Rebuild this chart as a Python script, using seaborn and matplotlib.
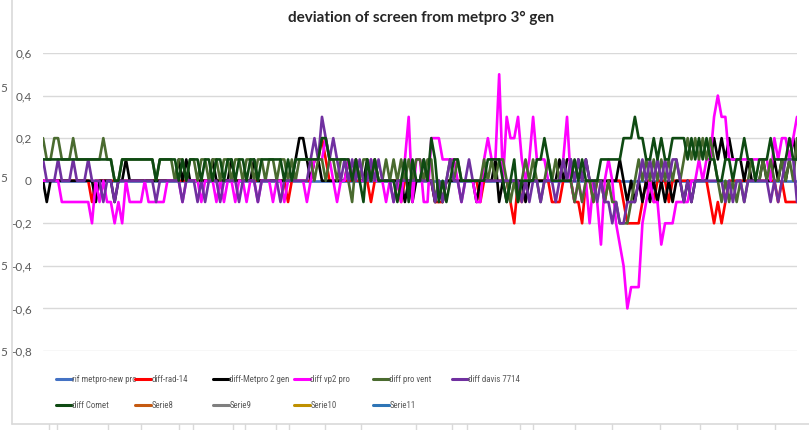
import numpy as np
import pandas as pd
import matplotlib
matplotlib.use("Agg")
import matplotlib.pyplot as plt
import seaborn as sns
from matplotlib import font_manager
from matplotlib.lines import Line2D
from matplotlib.ticker import FuncFormatter

# deviation values in tenths, one row = 10 readings (201 readings)
rif_metpro = [0] * 201

diff_rad14 = [
    0, 0, 0, 0, 0, 0, 0, 0, 0, 0,
    0, 0, 0, -1, 0, 0, 0, 0, 0, 0,
    0, 0, 0, 0, 0, 0, 0, 0, 0, 0,
    0, 0, 0, 0, 0, 0, 0, 0, 0, 0,
    0, 0, 0, 0, 0, 0, 0, 0, 0, 0,
    0, 0, 0, 0, 0, 0, 0, 0, 0, 0,
    0, 0, 0, 0, 0, -1, 0, 0, 0, 0,
    0, 0, 1, 1, 2, 1, 0, 0, 0, 0,
    0, 0, 0, 0, 0, 0, 0, -1, 0, 0,
    0, 0, 0, 0, 0, -1, 0, 0, 0, 0,
    0, 0, 0, 0, -1, -1, -1, 0, 0, 0,
    0, 0, 0, 0, 0, 0, -1, 0, 0, 0,
    0, 0, 0, 0, -1, -2, 0, -1, 0, 0,
    0, 0, 0, 0, 0, -1, -1, -1, 0, 0,
    0, -1, -1, -2, 0, 0, -1, 0, 0, -1,
    0, 0, 0, 0, -1, -2, -2, -2, -2, -1,
    0, 0, -1, 0, 0, 0, -1, 0, 0, 0,
    0, 0, 0, 0, 0, 0, 0, -1, -2, -1,
    -2, -1, 0, 0, 0, 0, 0, 0, 0, 0,
    0, 0, 0, 0, 0, -1, 0, -1, -1, -1,
    -1]

diff_metpro2 = [
    0, -1, 0, 0, 0, 0, 0, 0, 0, 0,
    0, 0, 0, 0, -1, 0, 0, 0, 0, -1,
    0, 0, 1, 0, 0, 0, 0, 0, 0, 0,
    0, 0, 0, 0, 0, 0, 1, 0, 1, 0,
    0, 0, 0, 0, 0, 1, 0, 0, 0, 0,
    1, 0, 0, 0, 0, 0, 1, 0, 0, 0,
    0, 0, 0, 0, 0, 0, 0, 1, 2, 2,
    1, 0, 1, 1, 0, 0, 0, 0, 0, 0,
    0, 1, 0, 1, 0, 0, 1, 0, 1, 0,
    0, 0, 0, 0, 0, 0, -1, 0, -1, 0,
    0, 1, 0, 0, -1, 0, -1, 0, 0, 0,
    0, 0, 0, 0, 0, -1, 0, 0, 0, 0,
    1, -1, 0, -1, 0, 0, 0, 0, -1, 0,
    0, 0, 0, 0, 0, 0, 0, 1, 0, 1,
    1, 0, 1, 0, 1, 0, 0, 0, 0, 0,
    0, 0, 0, 1, 0, -1, 0, -1, 0, -1,
    0, -1, 0, -1, 0, -1, 0, -1, 0, 0,
    -1, 0, -1, 0, 0, 0, 0, 1, 2, 1,
    2, 1, 2, 1, 1, 1, 0, 1, 0, 0,
    0, 1, 0, 0, 1, 0, 1, 0, 1, 2,
    1]

diff_vp2 = [
    0, 0, 0, 0, 0, -1, -1, -1, -1, -1,
    -1, -1, -1, -2, 0, -1, 0, -1, -1, -2,
    -1, -2, 0, -1, -1, -1, -1, 0, -1, -1,
    -1, -1, -1, 0, 0, 0, 0, -1, 0, 0,
    0, 0, -1, 0, 0, 0, -1, 0, -1, 0,
    0, -1, 0, 0, -1, 0, 0, -1, 0, 0,
    0, -1, 0, 0, -1, 0, 0, 0, 0, 0,
    -1, 0, 1, 1, 1, 2, 1, 0, -1, 0,
    0, 1, 0, 1, 0, 0, 0, 1, 0, 0,
    0, -1, 0, -1, 0, -1, 1, 3, -1, 1,
    1, -1, -1, 2, 2, 2, 1, 1, 1, 1,
    0, -1, 0, 0, 0, -1, -1, 1, 2, 1,
    1, 5, 0, 3, 2, 2, 3, 1, 0, 1,
    3, 1, 1, 1, 0, 0, 0, 0, 1, 3,
    0, -1, 0, -1, 0, -2, 0, -1, -3, 0,
    1, 0, -2, -3, -4, -6, -5, -5, -5, -2,
    -1, 0, -1, -1, -3, -2, -2, -2, -1, -1,
    -1, -1, 0, 0, 1, 0, 1, 1, 3, 4,
    3, 3, 1, 1, 1, 1, 1, 1, 1, 1,
    1, 1, 1, 0, 2, 1, 2, 2, 1, 2,
    3]

diff_pro_vent = [
    2, 1, 1, 2, 2, 1, 1, 1, 2, 1,
    1, 1, 1, 1, 1, 1, 2, 1, 1, 0,
    0, 1, 1, 1, 1, 1, 1, 1, 1, 1,
    0, 1, 1, 1, 1, 0, 1, 1, 0, 1,
    1, 0, 1, 1, 0, 1, 1, 0, 1, 1,
    0, 1, 1, 0, 1, 1, 0, 1, 1, 0,
    1, 1, 0, 1, 1, 0, 1, 0, 1, 1,
    1, 1, 0, 1, 1, 0, 1, 1, 0, 1,
    1, 0, -1, 1, 0, 1, 1, 0, 1, 0,
    0, 1, 0, 1, 0, 1, 0, 1, 0, 1,
    1, 0, 1, 1, -1, 0, -1, 0, 1, 0,
    1, 0, 0, 0, 0, 0, 0, 1, 0, 1,
    0, 1, 1, 0, -1, 0, -1, 0, 1, 0,
    1, 0, -1, 0, 1, 0, 1, 0, 1, 0,
    0, -1, 0, -1, 0, 0, -1, 0, 0, -1,
    0, -1, -1, -2, -2, -2, -1, 0, 1, 0,
    1, 0, 1, 0, 1, 0, 1, 0, 1, 0,
    1, 2, 1, 2, 1, 2, 1, 2, 1, 0,
    -1, 0, -1, 0, -1, 0, -1, 0, 1, 0,
    0, 1, 0, 1, 0, 0, 1, 0, 1, 0,
    2]

diff_davis = [
    1, 0, 0, 0, 1, 0, 0, 0, 1, 0,
    0, 0, 1, 0, 0, 0, -1, 0, 0, -1,
    0, 0, 0, 0, 0, 0, 0, 0, 0, 0,
    -1, 0, 0, 0, 0, 0, 0, -1, 0, 0,
    0, -1, 0, -1, 0, 0, 0, -1, 0, 0,
    0, 0, -1, 0, 0, 0, 0, -1, 0, 0,
    0, 0, 0, -1, 0, 0, 0, 0, 0, 0,
    0, 1, 2, 1, 3, 2, 1, 2, 1, 0,
    1, 0, 1, 0, 1, 0, 0, 1, 0, 1,
    0, 0, 0, -1, 0, 0, 0, 0, 0, 0,
    0, 0, 0, 0, -1, 0, -1, 0, 1, 0,
    0, -1, 0, 1, 0, 0, 0, 0, 0, 0,
    0, 0, 0, 0, 0, 0, 0, -1, 0, -1,
    0, 0, -1, 0, 0, 0, -1, 0, 1, 0,
    1, 0, 1, 0, 1, 0, 0, -1, 0, -1,
    -1, -2, -1, -2, -2, -1, -1, -1, 0, 1,
    0, 1, 0, 1, 0, 1, 0, 1, 1, 0,
    -1, 0, -1, 0, 0, 0, 0, 0, 0, 0,
    0, -1, 0, -1, 0, 0, -1, 0, 0, 0,
    0, 0, 0, -1, 0, -1, 0, 1, 1, 1,
    -1]

diff_comet = [
    1, 1, 1, 1, 1, 1, 1, 1, 1, 1,
    1, 1, 1, 1, 1, 1, 1, 1, 1, 0,
    0, 1, 1, 1, 1, 1, 1, 1, 1, 1,
    0, 1, 1, 1, 1, 1, 0, 1, 0, 1,
    1, 1, 0, 1, 1, 0, 1, 1, 0, 1,
    1, 0, 1, 1, 0, 1, 1, 0, 1, 1,
    1, 1, 1, 1, 0, 1, 0, 1, 1, 1,
    1, 1, 1, 1, 2, 2, 1, 1, 1, 1,
    1, 1, 0, 1, 0, -1, 1, 0, 1, 0,
    0, 0, 0, 0, -1, 0, 1, -1, 1, 0,
    0, 1, 0, 2, 1, -1, 0, -1, 0, 1,
    1, 0, 0, 0, 0, 0, 0, 0, 1, 1,
    1, 1, 0, -1, 0, 1, -1, 0, 0, 0,
    0, 1, 1, 2, 1, 0, 0, 0, 0, 0,
    0, 1, 0, 1, 0, 0, 0, 0, 1, 1,
    1, 1, 1, 1, 2, 2, 2, 3, 2, 2,
    1, 1, 2, 1, 2, 1, 1, 2, 2, 2,
    2, 1, 2, 1, 2, 1, 2, 1, 1, 0,
    0, 1, 1, 0, 1, 1, 2, 1, 1, 0,
    1, 1, 1, 2, 1, 1, 1, 1, 2, 1,
    1]

series_names = ["rif metpro-new pro", "diff-rad-14", "diff-Metpro 2 gen", "diff vp2 pro",
                "diff pro vent", "diff davis 7714", "diff Comet"]
series_data = [rif_metpro, diff_rad14, diff_metpro2, diff_vp2, diff_pro_vent, diff_davis, diff_comet]
series_colors = ["#4472C4", "#FF0000", "#000000", "#FF00FF", "#4A6B2F", "#7030A0", "#0E4A12"]
# empty series that only show up in the legend
empty_names = ["Serie8", "Serie9", "Serie10", "Serie11"]
empty_colors = ["#C55A11", "#7F7F7F", "#BF9000", "#2E75B6"]

y_ticks = [-0.8, -0.6, -0.4, -0.2, 0, 0.2, 0.4, 0.6]
title = "deviation of screen from metpro 3° gen"

sns.set_style("white")
installed = {f.name for f in font_manager.fontManager.ttflist}
narrow = "Lato"
for cand in ["Liberation Sans Narrow", "Roboto Condensed", "Open Sans Condensed"]:
    if cand in installed:
        narrow = cand
        break
plt.rcParams["font.family"] = ["Lato", "DejaVu Sans"]
leg_size = 6.4 if narrow != "Lato" else 5.3

W, H = 809, 430
fig = plt.figure(figsize=(W / 100, H / 100), dpi=100)
ax = fig.add_axes([43 / W, 1 - 351 / H, 754 / W, 298 / H])

n = len(rif_metpro)
df = pd.DataFrame({"idx": np.arange(n)})
for name, vals in zip(series_names, series_data):
    df[name] = np.array(vals) / 10.0

for name, col in zip(series_names, series_colors):
    sns.lineplot(data=df, x="idx", y=name, color=col, lw=1.9, ax=ax, legend=False)

ax.set_xlim(0, n - 1)
ax.set_ylim(-0.8, 0.6)
ax.set_yticks(y_ticks)
ax.yaxis.set_major_formatter(FuncFormatter(lambda v, p: ("%g" % round(v, 1)).replace(".", ",")))
ax.set_xticks([])
ax.set_xlabel("")
ax.set_ylabel("")
ax.grid(axis="y", color="#D9D9D9", lw=1.0)
ax.set_axisbelow(True)
ax.tick_params(axis="y", length=0, pad=8, labelsize=8.5, labelcolor="#595959")
for s in ax.spines.values():
    s.set_visible(False)

fig.text(421 / W, 1 - 18 / H, title, ha="center", va="center",
         fontsize=11, fontweight="bold", color="#262626")

# legend: excel style, 6 fixed-width columns, 2 rows
handles = [Line2D([], [], color=c, lw=2.2) for c in series_colors]
handles += [Line2D([], [], color=c, lw=2.2) for c in empty_colors]
labels = series_names + empty_names
col_x = [56, 135, 213, 294, 373, 452]
columns = [[0, 6], [1, 7], [2, 8], [3, 9], [4, 10], [5]]
fs_px = leg_size * 100 / 72
for x0, members in zip(col_x, columns):
    leg = fig.legend([handles[i] for i in members], [labels[i] for i in members],
                     loc="upper left", bbox_to_anchor=(x0 / W, 1 - 375 / H),
                     bbox_transform=fig.transFigure, frameon=False,
                     prop={"family": [narrow, "DejaVu Sans"], "size": leg_size},
                     borderpad=0, borderaxespad=0, handlelength=16 / fs_px,
                     handletextpad=0.05, labelspacing=(28 - 1.2 * fs_px) / fs_px)
    for t in leg.get_texts():
        t.set_color("#595959")

# pieces of the chart sitting behind this one
fig.add_artist(Line2D([12 / W, 12 / W], [1, 1 - 424 / H], color="#D9D9D9", lw=1.2))
fig.add_artist(Line2D([12 / W, 1], [1 - 424 / H, 1 - 424 / H], color="#D9D9D9", lw=1.2))
for tx in [49, 57, 108, 141, 179, 193, 233, 245, 276, 289, 325, 361, 416, 452, 467,
           520, 533, 575, 612, 660, 700, 737, 775]:
    fig.add_artist(Line2D([tx / W, tx / W], [1 - 424 / H, 0], color="#D9D9D9", lw=1.0))
for ty in [88, 178, 266, 353]:
    fig.text(0, 1 - ty / H, "5", ha="left", va="center", fontsize=8.5, color="#595959")

fig.savefig("out.png", dpi=100, facecolor="white")
